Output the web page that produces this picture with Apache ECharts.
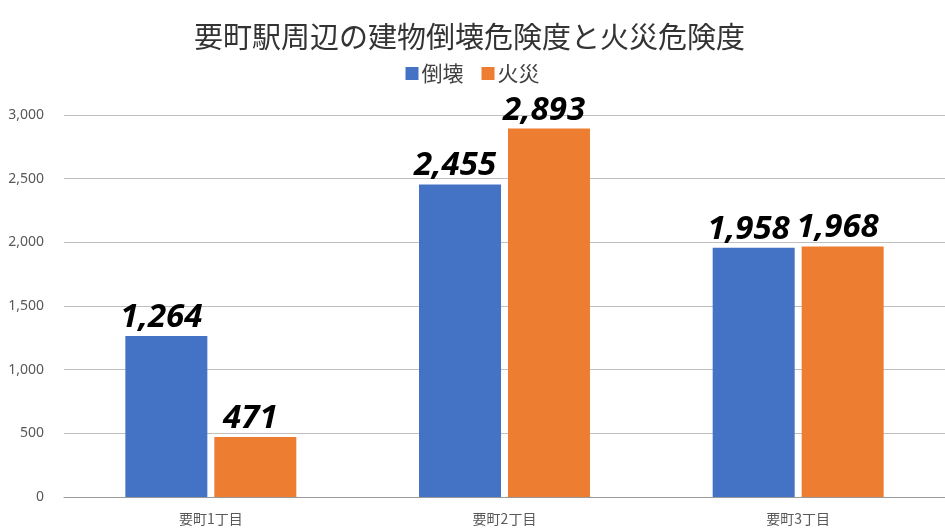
<!DOCTYPE html>
<html><head><meta charset="utf-8">
<script src="https://cdn.jsdelivr.net/npm/echarts@6/dist/echarts.min.js"></script>
<style>html,body{margin:0;padding:0;background:#fff}#c{width:945px;height:532px}</style>
</head><body><div id="c"></div>
<script>
const categories = ['要町1丁目', '要町2丁目', '要町3丁目'];
const collapseValues = [1264, 2455, 1958];
const fireValues = [471, 2893, 1968];
const seriesNames = ['倒壊', '火災'];

const chart = echarts.init(document.getElementById('c'));
const labelStyle = {
  show: true, position: 'top', distance: 2, offset: [-5, 0],
  fontFamily: 'Noto Sans', fontSize: 33, fontWeight: 'bold', fontStyle: 'italic', color: '#000',
  formatter: p => p.value.toLocaleString('en-US')
};
chart.setOption({
  animation: false,
  title: {
    text: '要町駅周辺の建物倒壊危険度と火災危険度', left: 189, top: 17,
    textStyle: { fontFamily: 'Noto Sans CJK JP', fontSize: 29, fontWeight: 'normal', color: '#333' }
  },
  legend: {
    top: 58, left: 'center', itemWidth: 13, itemHeight: 13, itemGap: 18,
    icon: 'rect',
    textStyle: { fontFamily: 'Noto Sans CJK JP', fontSize: 21, color: '#404040', padding: [0,0,0,-2] },
    data: seriesNames
  },
  grid: { left: 64, right: 0, top: 115, bottom: 35 },
  xAxis: {
    type: 'category', data: categories,
    axisLine: { lineStyle: { color: '#999' } }, axisTick: { show: false },
    axisLabel: { fontFamily: 'Noto Sans CJK JP', fontSize: 14, color: '#595959', margin: 15 }
  },
  yAxis: {
    type: 'value', min: 0, max: 3000, interval: 500,
    axisLine: { show: false }, axisTick: { show: false },
    splitLine: { lineStyle: { color: '#bfbfbf' } },
    axisLabel: { fontFamily: 'Noto Sans', fontSize: 14, color: '#595959', margin: 20,
      formatter: v => v.toLocaleString('en-US') }
  },
  series: [
    { name: seriesNames[0], type: 'bar', data: collapseValues, barWidth: 82, barGap: '8.5%',
      itemStyle: { color: '#4472c4' }, label: labelStyle },
    { name: seriesNames[1], type: 'bar', data: fireValues, barWidth: 82,
      itemStyle: { color: '#ed7d31' }, label: labelStyle }
  ]
});
</script></body></html>
